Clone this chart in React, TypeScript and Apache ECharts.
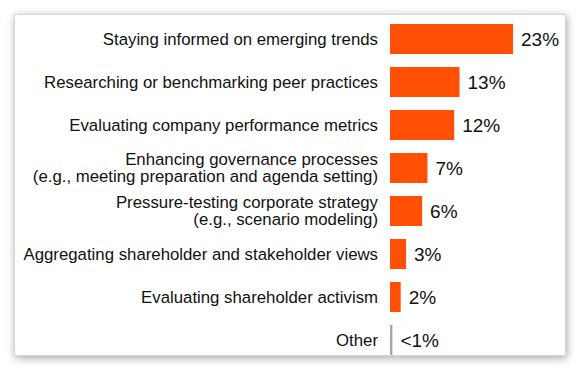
import React, { useEffect, useRef } from "react";
import * as echarts from "echarts";

const categories = [
  "Staying informed on emerging trends",
  "Researching or benchmarking peer practices",
  "Evaluating company performance metrics",
  "Enhancing governance processes\n(e.g., meeting preparation and agenda setting)",
  "Pressure-testing corporate strategy\n(e.g., scenario modeling)",
  "Aggregating shareholder and stakeholder views",
  "Evaluating shareholder activism",
  "Other",
];
const values = [23, 13, 12, 7, 6, 3, 2, 0.45];
const valueLabels = ["23%", "13%", "12%", "7%", "6%", "3%", "2%", "<1%"];
const barColors = ["#FF5005", "#FF5005", "#FF5005", "#FF5005", "#FF5005", "#FF5005", "#FF5005", "#A3A8AF"];

const FONT = "'Liberation Sans', Arial, Helvetica, sans-serif";

export default function App() {
  const ref = useRef<HTMLDivElement>(null);
  useEffect(() => {
    if (!ref.current) return;
    const chart = echarts.init(ref.current, null, { renderer: "svg" });
    chart.setOption({
      animation: false,
      backgroundColor: "#ffffff",
      graphic: [
        {
          type: "rect",
          z: -10,
          silent: true,
          shape: { x: 14.5, y: 14.5, width: 551, height: 341 },
          style: {
            fill: "#ffffff",
            stroke: "#d6d6d6",
            lineWidth: 1,
            shadowBlur: 8,
            shadowColor: "rgba(0,0,0,0.35)",
            shadowOffsetX: 1,
            shadowOffsetY: 2,
          },
        },
      ],
      grid: { left: 390, right: 29.5, top: 17.5, bottom: 6.5, containLabel: false },
      xAxis: {
        type: "value",
        min: 0,
        max: 30,
        show: false,
      },
      yAxis: {
        type: "category",
        inverse: true,
        data: categories,
        axisLine: { show: false },
        axisTick: { show: false },
        splitLine: { show: false },
        axisLabel: {
          margin: 12,
          fontSize: 16.8,
          lineHeight: 17.5,
          color: "#111111",
          fontFamily: FONT,
          align: "right",
        },
      },
      series: [
        {
          type: "bar",
          barWidth: 30,
          data: values.map((v, i) => ({
            value: v,
            itemStyle: { color: barColors[i] },
            label: {
              show: true,
              position: "right",
              distance: 8,
              formatter: valueLabels[i],
              fontSize: 19,
              color: "#111111",
              fontFamily: FONT,
            },
          })),
        },
      ],
    });
    return () => chart.dispose();
  }, []);
  return (
    <div
      ref={ref}
      style={{ position: "fixed", left: 0, top: 0, width: 580, height: 368, background: "#fff" }}
    />
  );
}
